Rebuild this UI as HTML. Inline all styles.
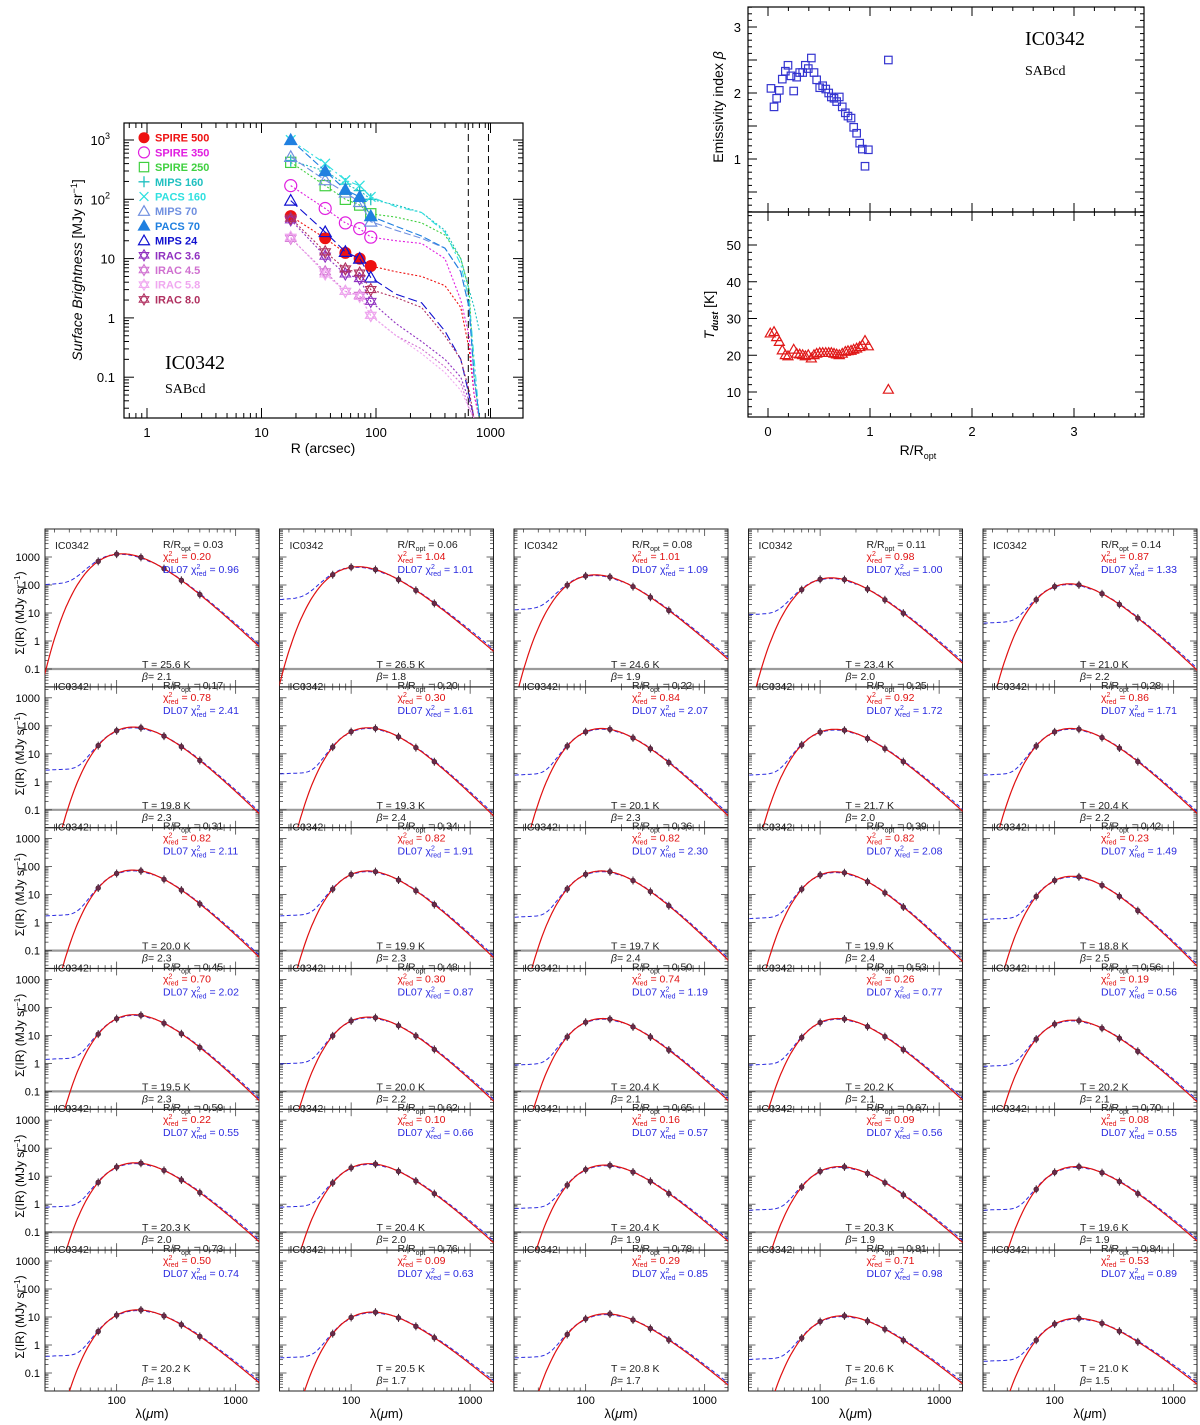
<!DOCTYPE html>
<html><head><meta charset="utf-8"><title>IC0342 dust profiles and SED fits</title>
<style>
html,body{margin:0;padding:0;background:#fff;overflow:hidden;}
svg{display:block;font-family:"Liberation Sans",sans-serif;}
.ser{font-family:"Liberation Serif",serif;}
</style></head>
<body>
<svg id="fig" width="1200" height="1425" viewBox="0 0 1200 1425" xmlns="http://www.w3.org/2000/svg">
<defs>
<clipPath id="clipTL"><rect x="124" y="123" width="399" height="295"/></clipPath>
</defs>
</svg>
<script>
// ================= DATA =================
const profR = [18, 36, 54, 72, 90];
const bandNames = ["SPIRE 500","SPIRE 350","SPIRE 250","MIPS 160","PACS 160","MIPS 70","PACS 70","MIPS 24","IRAC 3.6","IRAC 4.5","IRAC 5.8","IRAC 8.0"];
const bandColors = ["#ee1111","#e020e0","#40d040","#20c0c0","#30e0e0","#7090e0","#2080e0","#1010d0","#9030c0","#d070d0","#f0a8f0","#b03060"];
const bandMarkers = ["fcircle","ocircle","osquare","plus","cross","otri","ftri","otri","star","star","star","star"];
const bandDash = ["2,2","2,2","2,2","2,2","7,3,2,3","7,3","7,3","9,4","2,2","2,2","2,2","2,2"];
const sb500 = [52, 22, 12.5, 10, 7.5];
const sb350 = [170, 70, 40, 32, 23];
const sb250 = [420, 170, 100, 80, 57];
const sbM160 = [450, 300, 180, 140, 100];
const sbP160 = [1000, 400, 210, 170, 110];
const sbM70 = [520, 210, 130, 90, 42];
const sbP70 = [1000, 300, 145, 110, 52];
const sbM24 = [95, 28, 13, 10, 4.8];
const sbI36 = [45, 11, 5.5, 4.6, 1.9];
const sbI45 = [22, 6, 2.8, 2.4, 1.1];
const sbI58 = [23, 5.5, 2.8, 2.3, 1.1];
const sbI80 = [48, 13, 6.7, 5.7, 3.0];
const extR = [150, 250, 400, 550, 650, 720, 800];
const ext500 = [6.0, 5.0, 3.5, 1.5, 0.3, 0.05, 0.02];
const ext350 = [20, 18, 10, 2, 0.5, 0.05, 0.02];
const ext250 = [50, 40, 25, 10, 3, 0.1, 0.02];
const extM160 = [80, 60, 30, 10, 3, 1.5, 0.6];
const extP160 = [75, 60, 28, 8, 2, 0.2, 0.02];
const extM70 = [30, 22, 15, 6, 1.5, 0.1, 0.02];
const extP70 = [35, 24, 15, 6, 1.5, 0.1, 0.02];
const extM24 = [2.5, 1.8, 0.6, 0.2, 0.05, 0.02, 0.01];
const extI36 = [0.8, 0.4, 0.2, 0.1, 0.04, 0.02, 0.01];
const extI45 = [0.5, 0.3, 0.15, 0.08, 0.03, 0.02, 0.01];
const extI58 = [0.5, 0.25, 0.12, 0.06, 0.03, 0.02, 0.01];
const extI80 = [2.2, 1.5, 0.5, 0.2, 0.06, 0.02, 0.01];
const opticalRadii = [640, 960];

const betaR = [0.029,0.059,0.085,0.111,0.140,0.170,0.196,0.225,0.252,0.281,0.311,0.340,0.366,0.395,0.425,0.451,0.477,0.507,0.536,0.566,0.595,0.621,0.647,0.673,0.699,0.728,0.758,0.784,0.814,0.840,0.869,0.899,0.925,0.951,0.984,1.18];
const betaV = [2.07,1.79,1.92,2.04,2.21,2.33,2.42,2.26,2.03,2.24,2.31,2.31,2.42,2.37,2.53,2.31,2.20,2.08,2.11,2.06,2.00,1.94,1.92,1.87,1.94,1.79,1.70,1.65,1.62,1.48,1.39,1.24,1.15,0.89,1.14,2.50];
const tempR = [0.022,0.059,0.085,0.111,0.140,0.170,0.196,0.252,0.281,0.311,0.340,0.366,0.395,0.425,0.451,0.477,0.507,0.536,0.566,0.595,0.621,0.647,0.673,0.699,0.728,0.758,0.784,0.814,0.840,0.869,0.899,0.925,0.951,0.984,1.18];
const tempV = [26.0,26.4,25.0,23.7,21.4,20.1,19.8,21.6,20.5,20.3,20.1,19.8,20.1,19.2,20.1,20.5,20.7,20.7,20.7,20.7,20.7,20.5,20.3,20.1,20.5,21.0,21.2,21.3,21.6,21.9,22.3,22.8,24.0,22.5,10.7];

const sedRopt = [0.03,0.06,0.08,0.11,0.14, 0.17,0.20,0.22,0.25,0.28, 0.31,0.34,0.36,0.39,0.42, 0.45,0.48,0.50,0.53,0.56, 0.59,0.62,0.65,0.67,0.70, 0.73,0.76,0.78,0.81,0.84];
const sedChi = ["0.20","1.04","1.01","0.98","0.87", "0.78","0.30","0.84","0.92","0.86", "0.82","0.82","0.82","0.82","0.23", "0.70","0.30","0.74","0.26","0.19", "0.22","0.10","0.16","0.09","0.08", "0.50","0.09","0.29","0.71","0.53"];
const sedChiDL = ["0.96","1.01","1.09","1.00","1.33", "2.41","1.61","2.07","1.72","1.71", "2.11","1.91","2.30","2.08","1.49", "2.02","0.87","1.19","0.77","0.56", "0.55","0.66","0.57","0.56","0.55", "0.74","0.63","0.85","0.98","0.89"];
const sedT = [25.6,26.5,24.6,23.4,21.0, 19.8,19.3,20.1,21.7,20.4, 20.0,19.9,19.7,19.9,18.8, 19.5,20.0,20.4,20.2,20.2, 20.3,20.4,20.4,20.3,19.6, 20.2,20.5,20.8,20.6,21.0];
const sedBeta = [2.1,1.8,1.9,2.0,2.2, 2.3,2.4,2.3,2.0,2.2, 2.3,2.3,2.4,2.4,2.5, 2.3,2.2,2.1,2.1,2.1, 2.0,2.0,1.9,1.9,1.9, 1.8,1.7,1.7,1.6,1.5];
const sedPeak = [1300,450,230,180,110, 90,85,80,75,80, 75,70,70,65,45, 55,45,40,40,35, 30,28,25,22,22, 18,15,13,11,9];
const sedWarm = [120,35,15,10,5, 3,2.2,2,2,2, 2,2,1.8,1.6,1.5, 1.6,1.1,1.0,1.0,0.9, 0.9,0.9,0.8,0.7,0.7, 0.45,0.4,0.4,0.35,0.3];
const sedBands = [70, 100, 160, 250, 350, 500];
const sedYTicks = ["1000","100","10","1","0.1"];

// ================= HELPERS =================
const NS = "http://www.w3.org/2000/svg";
const svg = document.getElementById('fig');
function mk(tag, attrs, parent) {
  const el = document.createElementNS(NS, tag);
  for (const k in attrs) el.setAttribute(k, attrs[k]);
  (parent || svg).appendChild(el);
  return el;
}
function txt(s, attrs, parent) { const t = mk('text', attrs, parent); t.textContent = s; return t; }
const L = Math.log10;

// ================= TOP-LEFT =================
const TL = {x0:124, x1:523, y0:123, y1:418};
function tlX(r){ return 147 + (L(r) - 0) * 114.5; }
function tlY(v){ return 140 + (3 - L(v)) * 59.3; }
const gTL = mk('g', {});


const tlFrame = mk('rect', {x:TL.x0, y:TL.y0, width:TL.x1-TL.x0, height:TL.y1-TL.y0, fill:'none', stroke:'#000', 'stroke-width':1.2}, gTL);


for (let d = -1; d <= 3; d++) for (let m = 1; m <= 9; m++) {
  const v = m * Math.pow(10, d); const x = tlX(v);
  if (x < TL.x0 || x > TL.x1) continue;
  const len = m === 1 ? 10 : 5;
  mk('line', {x1:x, x2:x, y1:TL.y1, y2:TL.y1-len, stroke:'#000'}, gTL);
  mk('line', {x1:x, x2:x, y1:TL.y0, y2:TL.y0+len, stroke:'#000'}, gTL);
}
const xtl = ["1","10","100","1000"];
xtl.forEach((s, i) => {
  const t = txt(s, {x:tlX(Math.pow(10, i)), y:437, 'font-size':13, 'text-anchor':'middle'}, gTL);
  
  
});
for (let d = -2; d <= 3; d++) for (let m = 1; m <= 9; m++) {
  const v = m * Math.pow(10, d); const y = tlY(v);
  if (y < TL.y0 || y > TL.y1) continue;
  const len = m === 1 ? 10 : 5;
  mk('line', {x1:TL.x0, x2:TL.x0+len, y1:y, y2:y, stroke:'#000'}, gTL);
  mk('line', {x1:TL.x1, x2:TL.x1-len, y1:y, y2:y, stroke:'#000'}, gTL);
}
const ytl = [[1000,"10","3"],[100,"10","2"],[10,"10",""],[1,"1",""],[0.1,"0.1",""]];
ytl.forEach(a => {
  const t = txt(a[1], {x:a[2] ? 110 : 115, y:tlY(a[0])+5, 'font-size':13, 'text-anchor':'end'}, gTL);
  if (a[2]) { const sp = mk('tspan', {dy:-6, 'font-size':9}, t); sp.textContent = a[2]; }
  
  
});
const xTitle = txt('R (arcsec)', {x:323, y:453, 'font-size':14, 'text-anchor':'middle'}, gTL);


const yTitle = txt('', {transform:'translate(82,270) rotate(-90)', 'font-size':14, 'text-anchor':'middle'}, gTL);
yTitle.innerHTML = '<tspan font-style="italic">Surface Brightness</tspan> [MJy sr<tspan dy="-5" font-size="9">−1</tspan><tspan dy="5">]</tspan>';


const tlName = txt('IC0342', {x:165, y:369, 'font-size':20, class:'ser'}, gTL);


const tlType = txt('SABcd', {x:165, y:393, 'font-size':14, class:'ser'}, gTL);


opticalRadii.forEach(r => {
  const l = mk('line', {x1:tlX(r), x2:tlX(r), y1:TL.y0, y2:TL.y1, stroke:'#000', 'stroke-dasharray':'7,4', 'stroke-width':1}, gTL);
  
  
});
function marker(type, x, y, color, s, parent) {
  let el;
  if (type === 'fcircle') el = mk('circle', {cx:x, cy:y, r:s, fill:color}, parent);
  else if (type === 'ocircle') el = mk('circle', {cx:x, cy:y, r:s, fill:'none', stroke:color, 'stroke-width':1.2}, parent);
  else if (type === 'osquare') el = mk('rect', {x:x-s*0.85, y:y-s*0.85, width:s*1.7, height:s*1.7, fill:'none', stroke:color, 'stroke-width':1.2}, parent);
  else if (type === 'plus') el = mk('path', {d:`M${x-s},${y}H${x+s}M${x},${y-s}V${y+s}`, stroke:color, 'stroke-width':1.3, fill:'none'}, parent);
  else if (type === 'cross') el = mk('path', {d:`M${x-s*.8},${y-s*.8}L${x+s*.8},${y+s*.8}M${x-s*.8},${y+s*.8}L${x+s*.8},${y-s*.8}`, stroke:color, 'stroke-width':1.3, fill:'none'}, parent);
  else if (type === 'otri' || type === 'ftri') el = mk('path', {d:`M${x},${y-s}L${x+s},${y+s*0.75}L${x-s},${y+s*0.75}Z`, fill:type === 'ftri' ? color : 'none', stroke:color, 'stroke-width':1.2}, parent);
  else if (type === 'star') el = mk('path', {d:`M${x},${y-s}L${x+s*.87},${y+s*.5}L${x-s*.87},${y+s*.5}ZM${x},${y+s}L${x+s*.87},${y-s*.5}L${x-s*.87},${y-s*.5}Z`, fill:'none', stroke:color, 'stroke-width':1.1}, parent);
  return el;
}
const sbSeries = [sb500, sb350, sb250, sbM160, sbP160, sbM70, sbP70, sbM24, sbI36, sbI45, sbI58, sbI80];
const extSeries = [ext500, ext350, ext250, extM160, extP160, extM70, extP70, extM24, extI36, extI45, extI58, extI80];
const gSeries = mk('g', {'clip-path':'url(#clipTL)'}, gTL);
sbSeries.forEach((vals, i) => {
  const pts = profR.map((r, j) => [tlX(r), tlY(vals[j])]).concat(extR.map((r, j) => [tlX(r), tlY(extSeries[i][j])]));
  const line = mk('polyline', {points:pts.map(p => p.join(',')).join(' '), fill:'none', stroke:bandColors[i], 'stroke-width':1.1, 'stroke-dasharray':bandDash[i]}, gSeries);
  
  
  profR.forEach((r, j) => {
    const m = marker(bandMarkers[i], tlX(r), tlY(vals[j]), bandColors[i], 6, gSeries);
    
    
  });
});
bandNames.forEach((n, i) => {
  const y = 137.7 + i * 14.7;
  const g = mk('g', {}, gTL);
  
  
  marker(bandMarkers[i], 144, y, bandColors[i], 5.5, g);
  txt(n, {x:155, y:y+4, 'font-size':11, 'font-weight':'bold', fill:bandColors[i]}, g);
});

// ================= TOP-RIGHT =================
const TR = {x0:748, x1:1144, y0:7, ym:212, y1:417};
function trX(r){ return 768 + r * 102; }
function bY(b){ return 27 + (3 - b) * 66; }
function tY(t){ return 245 + (50 - t) * 3.675; }
const gTR = mk('g', {});


const trF1 = mk('rect', {x:TR.x0, y:TR.y0, width:TR.x1-TR.x0, height:TR.ym-TR.y0, fill:'none', stroke:'#000', 'stroke-width':1.2}, gTR);


const trF2 = mk('rect', {x:TR.x0, y:TR.ym, width:TR.x1-TR.x0, height:TR.y1-TR.ym, fill:'none', stroke:'#000', 'stroke-width':1.2}, gTR);


for (let k = -1; k <= 18; k++) {
  const v = k * 0.2; const x = trX(v);
  if (x < TR.x0 || x > TR.x1) continue;
  const len = (k % 5 === 0) ? 9 : 4;
  [TR.y0, TR.ym].forEach(y => mk('line', {x1:x, x2:x, y1:y, y2:y+len, stroke:'#000'}, gTR));
  [TR.ym, TR.y1].forEach(y => mk('line', {x1:x, x2:x, y1:y, y2:y-len, stroke:'#000'}, gTR));
}
["0","1","2","3"].forEach((s, i) => {
  const t = txt(s, {x:trX(i), y:436, 'font-size':13, 'text-anchor':'middle'}, gTR);
  
  
});
for (let k = 2; k <= 33; k++) {
  const v = k * 0.1; const y = bY(v);
  if (y < TR.y0 || y > TR.ym) continue;
  const len = (k % 5 === 0) ? 9 : 4;
  mk('line', {x1:TR.x0, x2:TR.x0+len, y1:y, y2:y, stroke:'#000'}, gTR);
  mk('line', {x1:TR.x1, x2:TR.x1-len, y1:y, y2:y, stroke:'#000'}, gTR);
}
["3","2","1"].forEach((s, i) => {
  const t = txt(s, {x:741, y:bY(3-i)+5, 'font-size':13, 'text-anchor':'end'}, gTR);
  
  
});
for (let v = 4; v <= 59; v++) {
  const y = tY(v);
  if (y < TR.ym || y > TR.y1) continue;
  const len = (v % 10 === 0) ? 9 : (v % 2 === 0 ? 4 : 0);
  if (!len) continue;
  mk('line', {x1:TR.x0, x2:TR.x0+len, y1:y, y2:y, stroke:'#000'}, gTR);
  mk('line', {x1:TR.x1, x2:TR.x1-len, y1:y, y2:y, stroke:'#000'}, gTR);
}
["50","40","30","20","10"].forEach((s, i) => {
  const t = txt(s, {x:741, y:tY(50-10*i)+5, 'font-size':13, 'text-anchor':'end'}, gTR);
  
  
});
const bTitle = txt('', {transform:'translate(723,107) rotate(-90)', 'font-size':14, 'text-anchor':'middle'}, gTR);
bTitle.innerHTML = 'Emissivity index <tspan font-style="italic">β</tspan>';


const tTitle = txt('', {transform:'translate(714,315) rotate(-90)', 'font-size':14, 'text-anchor':'middle'}, gTR);
tTitle.innerHTML = '<tspan font-style="italic">T</tspan><tspan dy="4" font-size="9" font-weight="bold" font-style="italic">dust</tspan><tspan dy="-4">  [K]</tspan>';


const rTitle = txt('', {x:918, y:455, 'font-size':14, 'text-anchor':'middle'}, gTR);
rTitle.innerHTML = 'R/R<tspan dy="4" font-size="9">opt</tspan>';


const trName = txt('IC0342', {x:1025, y:45, 'font-size':20, class:'ser'}, gTR);


const trType = txt('SABcd', {x:1025, y:75, 'font-size':14, class:'ser'}, gTR);


betaR.forEach((r, i) => {
  const m = marker('osquare', trX(r), bY(betaV[i]), '#3535d0', 4.4, gTR);
  
  
});
tempR.forEach((r, i) => {
  const m = marker('otri', trX(r), tY(tempV[i]), '#e01818', 5, gTR);
  
  
});

// ================= SED GRID =================
const PW = 214;
function panelLeft(c){ return 45 + c * 234.5; }
function rowK(r){ return 557 + r * 140.8; }
function rowTop(r){ return r === 0 ? 529 : rowK(r) - 11; }
function rowBot(r){ return rowK(r) + 130; }
function sx(c, lam){ return panelLeft(c) + (L(lam) - L(25)) * 119; }
function sy(r, v){ return rowK(r) + (3 - L(v)) * 28; }
function mbb(lam, T, b){ return Math.pow(lam, -3 - b) / (Math.exp(14388 / (lam * T)) - 1); }
const lamGrid = []; for (let k = 0; k <= 160; k++) lamGrid.push(Math.pow(10, 1.35 + k * 1.9 / 160));
for (let i = 0; i < 30; i++) {
  const r = Math.floor(i / 5), c = i % 5;
  const x0 = panelLeft(c), y0 = rowTop(r), y1 = rowBot(r);
  const g = mk('g', {});
  
  
  const cp = mk('clipPath', {id:'cp' + i}, g);
  mk('rect', {x:x0, y:y0, width:PW, height:y1 - y0}, cp);
  if (r < 5) {
    const band = mk('line', {x1:x0, x2:x0+PW, y1:sy(r, 0.1), y2:sy(r, 0.1), stroke:'#9a9a9a', 'stroke-width':2.2}, g);
    
    
  }
  for (let d = 1; d <= 3; d++) for (let m = 1; m <= 9; m++) {
    const v = m * Math.pow(10, d), x = sx(c, v);
    if (x < x0 || x > x0 + PW) continue;
    const len = m === 1 ? 7 : 3.5;
    mk('line', {x1:x, x2:x, y1:y1, y2:y1-len, stroke:'#444', 'stroke-width':0.8}, g);
    mk('line', {x1:x, x2:x, y1:y0, y2:y0+len, stroke:'#444', 'stroke-width':0.8}, g);
  }
  for (let d = -2; d <= 3; d++) for (let m = 1; m <= 9; m++) {
    const v = m * Math.pow(10, d), y = sy(r, v);
    if (y < y0 || y > y1) continue;
    const len = m === 1 ? 7 : 3.5;
    mk('line', {x1:x0, x2:x0+len, y1:y, y2:y, stroke:'#444', 'stroke-width':0.8}, g);
    mk('line', {x1:x0+PW, x2:x0+PW-len, y1:y, y2:y, stroke:'#444', 'stroke-width':0.8}, g);
  }
  const fr = mk('rect', {x:x0, y:y0, width:PW, height:y1-y0, fill:'none', stroke:'#222', 'stroke-width':1}, g);
  
  
  const T = sedT[i], b = sedBeta[i];
  let mx = 0; lamGrid.forEach(l => { mx = Math.max(mx, mbb(l, T, b)); });
  const A = sedPeak[i] / mx;
  const red = l => A * mbb(l, T, b);
  const blue = l => red(l) * (l > 200 ? Math.pow(l / 200, 0.08) : 1) * (l > 90 && l < 200 ? 0.94 : 1) + sedWarm[i] * Math.pow(l / 25, 0.6) * Math.exp(-Math.pow(l / 65, 2));
  const gc = mk('g', {'clip-path':'url(#cp' + i + ')'}, g);
  const bp = lamGrid.map(l => sx(c, l).toFixed(1) + ',' + sy(r, blue(l)).toFixed(1)).join(' ');
  const bl = mk('polyline', {points:bp, fill:'none', stroke:'#2a2ae0', 'stroke-width':1, 'stroke-dasharray':'4,2.5'}, gc);
  
  
  const rp = lamGrid.map(l => sx(c, l).toFixed(1) + ',' + Math.min(sy(r, red(l)), 3000).toFixed(1)).join(' ');
  const rl = mk('polyline', {points:rp, fill:'none', stroke:'#e01010', 'stroke-width':1.2}, gc);
  
  
  sedBands.forEach(l => {
    const px = sx(c, l), py = sy(r, red(l));
    const pt = mk('g', {}, gc);
    
    
    mk('line', {x1:px, x2:px, y1:py-4, y2:py+4, stroke:'#402030', 'stroke-width':1}, pt);
    mk('circle', {cx:px, cy:py, r:2.4, fill:'#6a2a48', stroke:'#402030', 'stroke-width':0.6}, pt);
  });
  const yk = rowK(r), y01 = sy(r, 0.1);
  txt('IC0342', {x:x0+10, y:yk-8, 'font-size':10.5, fill:'#222'}, g);
  const rr = txt('', {x:x0+118, y:yk-9, 'font-size':10.5, fill:'#222'}, g);
  rr.innerHTML = 'R/R<tspan dy="3" font-size="7">opt</tspan><tspan dy="-3"> = ' + sedRopt[i].toFixed(2) + '</tspan>';
  
  
  const cr = txt('', {x:x0+118, y:yk+3, 'font-size':10.5, fill:'#e01010'}, g);
  cr.innerHTML = 'χ<tspan dy="-4" font-size="7">2</tspan><tspan dx="-4" dy="7" font-size="7">red</tspan><tspan dy="-3"> = ' + sedChi[i] + '</tspan>';
  
  
  const cb = txt('', {x:x0+118, y:yk+16, 'font-size':10.5, fill:'#2a2ae0'}, g);
  cb.innerHTML = 'DL07 χ<tspan dy="-4" font-size="7">2</tspan><tspan dx="-4" dy="7" font-size="7">red</tspan><tspan dy="-3"> = ' + sedChiDL[i] + '</tspan>';
  
  
  const tt = txt('T = ' + sedT[i].toFixed(1) + ' K', {x:x0+97, y:y01-1, 'font-size':10.5, fill:'#222'}, g);
  
  
  const bt = txt('', {x:x0+97, y:y01+11, 'font-size':10.5, fill:'#222'}, g);
  bt.innerHTML = '<tspan font-style="italic">β</tspan>= ' + sedBeta[i].toFixed(1);
  
  
  if (c === 0) {
    sedYTicks.forEach(s => {
      const t = txt(s, {x:40, y:sy(r, parseFloat(s))+4, 'font-size':11, 'text-anchor':'end'}, g);
      
      
    });
    const yt = txt('', {transform:`translate(24,${(yk + y01) / 2}) rotate(-90)`, 'font-size':12, 'text-anchor':'middle'}, g);
    yt.innerHTML = 'Σ(IR)  (MJy sr<tspan dy="-4" font-size="8">−1</tspan><tspan dy="4">)</tspan>';
    
    
  }
  if (r === 5) {
    ["100","1000"].forEach(s => {
      const t = txt(s, {x:sx(c, parseFloat(s)), y:1404, 'font-size':11, 'text-anchor':'middle'}, g);
      
      
    });
    const xt = txt('', {x:x0+PW/2, y:1418, 'font-size':13, 'text-anchor':'middle'}, g);
    xt.innerHTML = 'λ(<tspan font-style="italic">μ</tspan>m)';
    
    
  }
}
</script>
</body></html>
